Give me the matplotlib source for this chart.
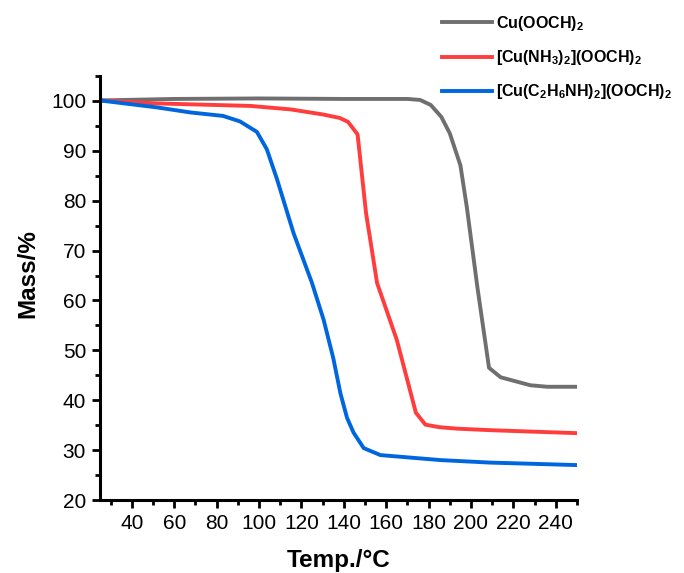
import matplotlib
matplotlib.use("Agg")
import matplotlib.pyplot as plt
from matplotlib.ticker import FixedLocator

plt.rcParams['font.family'] = ['Liberation Sans', 'DejaVu Sans']
plt.rcParams['mathtext.fontset'] = 'custom'
plt.rcParams['mathtext.rm'] = 'Liberation Sans'
plt.rcParams['mathtext.bf'] = 'Liberation Sans:bold'

# Data
t_cu = [25, 60, 100, 140, 170, 176, 181, 186, 190, 195, 198, 203, 208.5, 214, 228, 236, 250]
m_cu = [100.1, 100.4, 100.5, 100.4, 100.4, 100.2, 99.2, 96.8, 93.5, 87.1, 78.8, 62.7, 46.5, 44.6, 43.0, 42.7, 42.7]

t_nh3 = [25, 52, 96, 115, 130, 138, 142, 146.5, 150.5, 155.7, 165, 174, 178.5, 185, 193.5, 209, 250]
m_nh3 = [100.1, 99.5, 99.0, 98.3, 97.3, 96.6, 95.8, 93.3, 77.5, 63.5, 52.1, 37.5, 35.1, 34.6, 34.3, 34.0, 33.4]

t_ea = [25, 52, 67.5, 83, 91, 99, 103.7, 108.5, 116.3, 125, 130.5, 135, 138.4, 141.5, 144.6, 149.4, 157.3, 185.6, 209, 250]
m_ea = [100.1, 98.7, 97.7, 97.0, 95.9, 93.8, 90.3, 84.3, 73.5, 63.5, 56.1, 48.5, 41.4, 36.5, 33.5, 30.4, 29.0, 28.0, 27.5, 27.0]

labels = [r'Cu(OOCH)$_\mathbf{2}$',
          r'[Cu(NH$_\mathbf{3}$)$_\mathbf{2}$](OOCH)$_\mathbf{2}$',
          r'[Cu(C$_\mathbf{2}$H$_\mathbf{6}$NH)$_\mathbf{2}$](OOCH)$_\mathbf{2}$']
colors = ['#6f6f6f', '#ff3d3d', '#0066e0']

fig = plt.figure(figsize=(6.84, 5.73), dpi=100)
ax = fig.add_axes([100/684, 1-500/573, 477/684, 424/573])

lines = []
for t, m, c, lab in zip([t_cu, t_nh3, t_ea], [m_cu, m_nh3, m_ea], colors, labels):
    ln, = ax.plot(t, m, color=c, lw=2.8, label=lab, solid_joinstyle='round')
    lines.append(ln)

ax.set_xlim(25, 250)
ax.set_ylim(20, 105)
ax.xaxis.set_major_locator(FixedLocator(list(range(40, 241, 20))))
ax.xaxis.set_minor_locator(FixedLocator(list(range(30, 251, 20))))
ax.yaxis.set_major_locator(FixedLocator(list(range(20, 101, 10))))
ax.yaxis.set_minor_locator(FixedLocator(list(range(25, 106, 10))))

for s in ['top', 'right']:
    ax.spines[s].set_visible(False)
for s in ['left', 'bottom']:
    ax.spines[s].set_linewidth(2.2)
ax.tick_params(which='major', direction='out', length=6, width=2.0, labelsize=15, pad=4)
ax.tick_params(which='minor', direction='out', length=3.5, width=2.0)

ax.set_xlabel('Temp./°C', fontsize=17.5, fontweight='bold')
ax.set_ylabel('Mass/%', fontsize=17.5, fontweight='bold')
ax.xaxis.set_label_coords(0.5, -0.115)
ax.yaxis.set_label_coords(-0.128, 0.535)

leg = fig.legend(handles=lines, labels=labels, loc='upper left',
                 bbox_to_anchor=(438/684, 1 - 10/573), frameon=False,
                 prop={'size': 11.5, 'weight': 'bold'}, borderaxespad=0.0,
                 borderpad=0.25, handlelength=3.1, handletextpad=0.3, labelspacing=0.95)
for t in leg.get_texts():
    t.set_fontweight('bold')

fig.savefig('out.png', dpi=100)
